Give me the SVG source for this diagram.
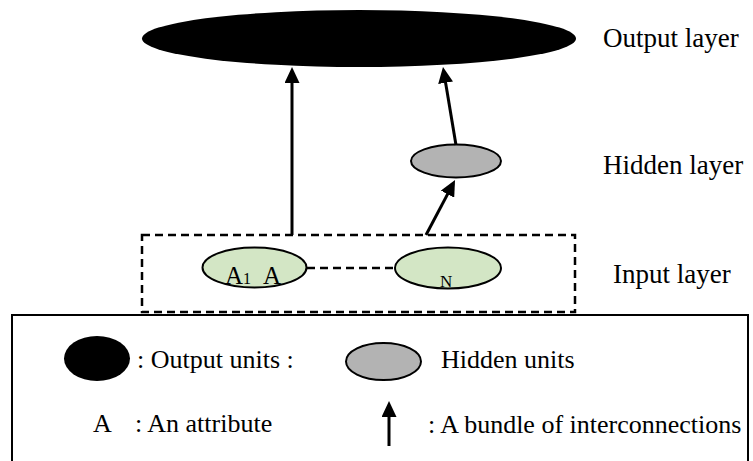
<svg xmlns="http://www.w3.org/2000/svg" width="753" height="461" viewBox="0 0 753 461">
<style>
text{font-family:"Liberation Serif","Times New Roman",serif;fill:#000}
.lbl{font-size:27px}
.leg{font-size:26px}
.conn{stroke:#000;stroke-width:3;fill:none}
.dash{stroke:#000;stroke-width:2.5;fill:none;stroke-dasharray:8 5}
.green{fill:#d3e6c5;stroke:#000;stroke-width:2}
.grey{fill:#b3b3b3;stroke:#000;stroke-width:2}
</style>
<defs>
<marker id="ah" viewBox="0 0 16 15" refX="8" refY="7.5" markerWidth="16" markerHeight="15" markerUnits="userSpaceOnUse" orient="auto">
<path d="M0,0 L16,7.5 L0,15 z" fill="#000"/>
</marker>
</defs>
<rect width="753" height="461" fill="#fff"/>

<g id="input-layer-box">
<rect class="dash" x="142" y="235" width="433" height="77"/>
</g>

<g id="output-node">
<ellipse cx="359" cy="38.5" rx="217" ry="28.5" fill="#000"/>
</g>

<g id="hidden-node">
<ellipse class="grey" cx="456" cy="161" rx="45" ry="16.5"/>
</g>

<g id="input-a1">
<ellipse class="green" cx="254.5" cy="267.5" rx="52" ry="20"/>
<text x="225" y="284" font-size="25">A<tspan x="243" font-size="16">1</tspan><tspan x="263">A</tspan></text>
</g>

<g id="input-an">
<ellipse class="green" cx="448" cy="268" rx="53" ry="20.5"/>
<text x="440" y="287" font-size="17">N</text>
</g>

<g id="connectors">
<line class="conn" x1="292" y1="235" x2="292" y2="75" marker-end="url(#ah)"/>
<line class="conn" x1="456" y1="145" x2="444.3" y2="74.9" marker-end="url(#ah)"/>
<line class="conn" x1="426" y1="235" x2="451.3" y2="187.1" marker-end="url(#ah)"/>
<line class="dash" x1="307" y1="268" x2="395" y2="268"/>
</g>

<g id="layer-labels">
<text class="lbl" x="603" y="47">Output layer</text>
<text class="lbl" x="603" y="174">Hidden layer</text>
<text class="lbl" x="613" y="283">Input layer</text>
</g>

<g id="legend">
<rect x="12" y="315" width="736" height="160" fill="none" stroke="#000" stroke-width="2"/>
<ellipse cx="97" cy="358.5" rx="33" ry="22.5" fill="#000"/>
<text class="leg" x="137" y="368">: Output units :</text>
<ellipse class="grey" cx="383.5" cy="361.5" rx="37.5" ry="18.5"/>
<text class="leg" x="441" y="368">Hidden units</text>
<text class="leg" x="93" y="432">A</text>
<text class="leg" x="135" y="432">: An attribute</text>
<line class="conn" x1="389" y1="446" x2="389" y2="409" marker-end="url(#ah)"/>
<text class="leg" x="428" y="433">: A bundle of interconnections</text>
</g>
</svg>
